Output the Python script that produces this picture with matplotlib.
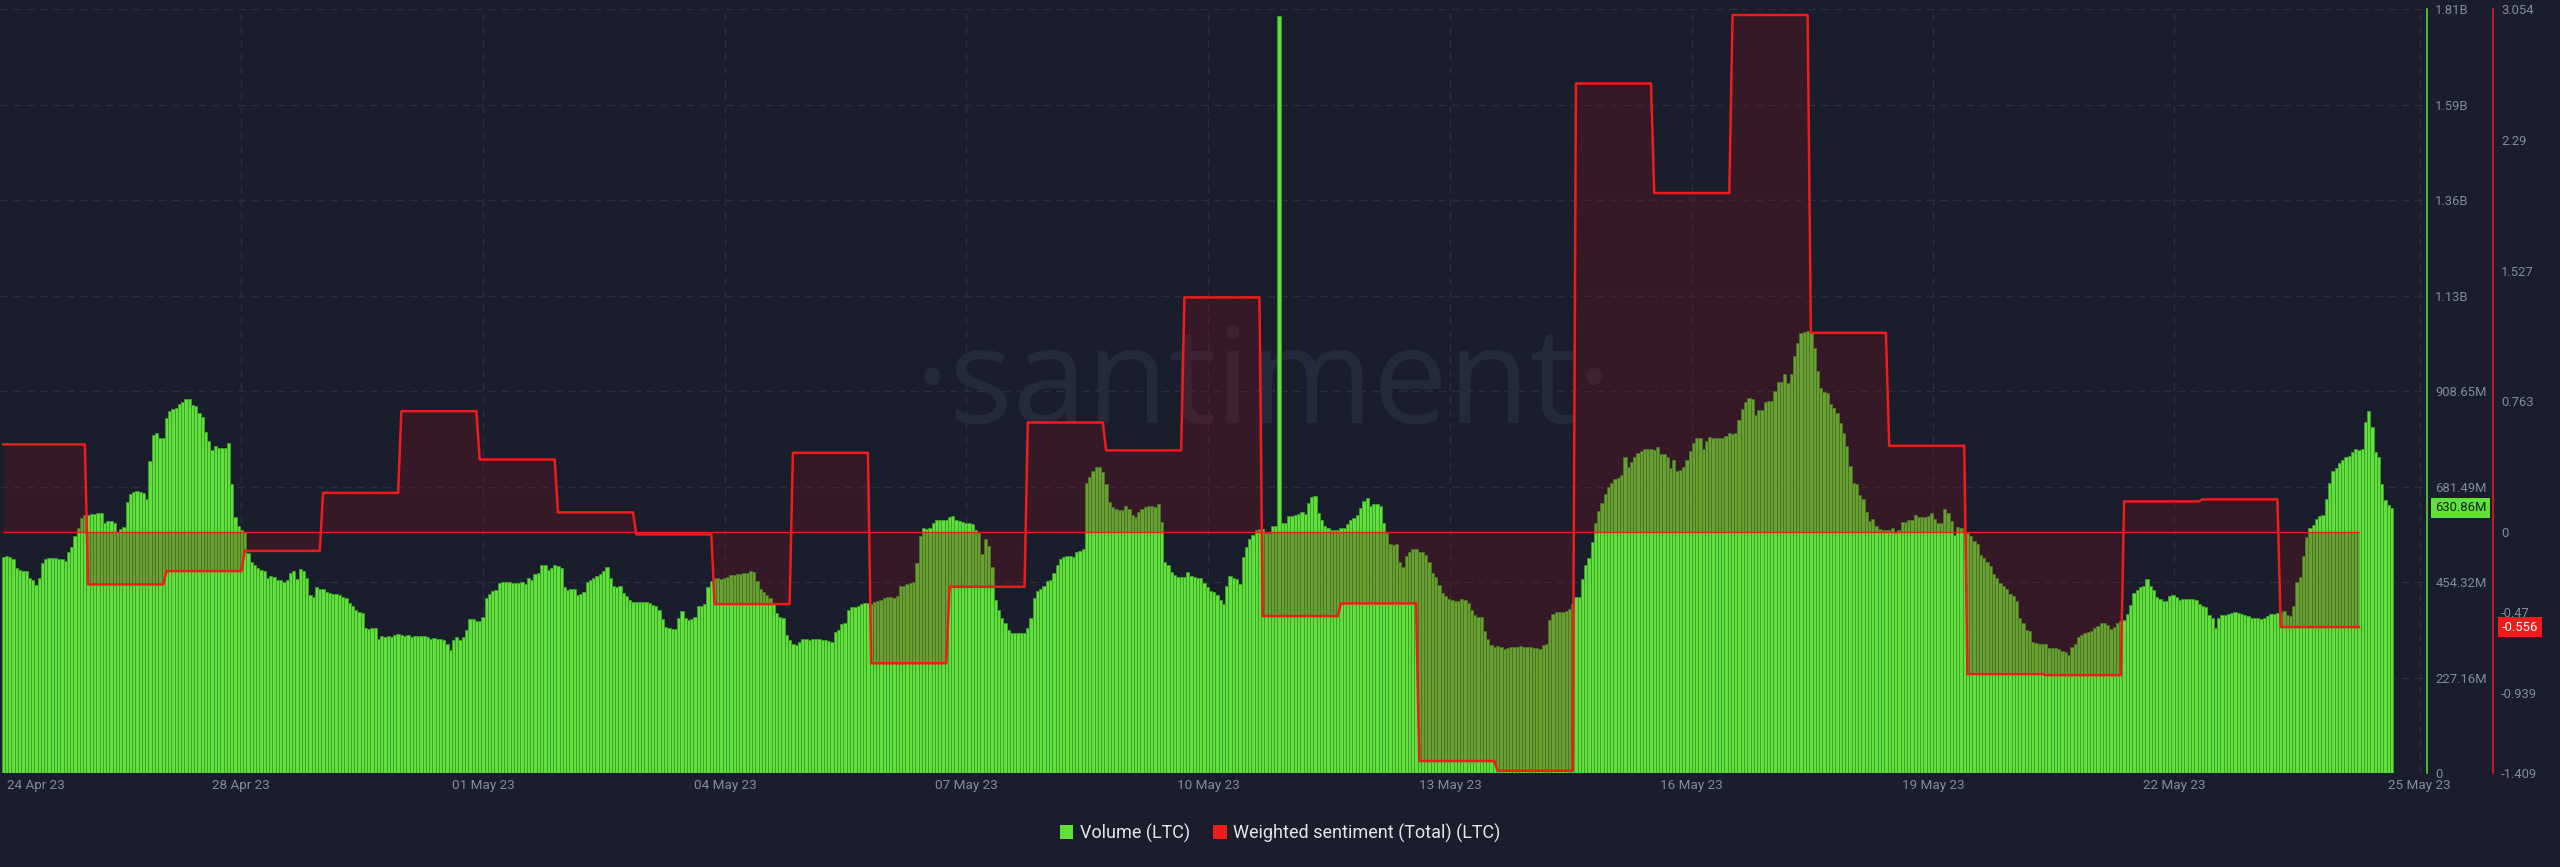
import numpy as np
import matplotlib
matplotlib.use('Agg')
import matplotlib.pyplot as plt
import matplotlib.transforms as mtransforms
from matplotlib.patches import Patch

plt.rcParams['font.family'] = ['Roboto', 'DejaVu Sans']

# hourly volume (LTC), millions
volume_m = [
    514, 516, 514, 508, 487, 483, 481, 480, 465, 459,
    447, 465, 500, 508, 512, 512, 511, 508, 508, 504,
    526, 537, 565, 582, 606, 613, 615, 616, 616, 619,
    619, 594, 600, 600, 594, 574, 580, 586, 645, 665,
    669, 671, 669, 667, 651, 742, 804, 808, 798, 796,
    844, 861, 867, 869, 878, 882, 889, 891, 875, 873,
    857, 848, 812, 790, 768, 779, 773, 773, 773, 784, 687,
    610, 588, 578, 574, 523, 503, 495, 487, 483, 480,
    465, 469, 467, 459, 459, 455, 459, 475, 481, 462,
    485, 481, 463, 423, 419, 443, 437, 437, 431, 429,
    427, 427, 423, 419, 416, 404, 397, 389, 384, 380,
    346, 343, 346, 344, 319, 327, 324, 327, 324, 328,
    331, 328, 327, 328, 324, 326, 326, 326, 326, 324, 320,
    322, 320, 320, 316, 308, 293, 316, 324, 316, 323,
    340, 366, 366, 362, 362, 372, 416, 427, 434, 435, 451,
    # 01 May ->
    455, 455, 454, 453, 453, 453, 455, 449, 465, 459,
    473, 476, 495, 496, 484, 488, 495, 493, 487, 442,
    435, 438, 438, 423, 425, 431, 454, 459, 465, 469,
    473, 481, 491, 463, 446, 443, 446, 429, 421, 411,
    406, 406, 407, 406, 406, 405, 400, 398, 389, 366, 348,
    346, 343, 343, 368, 385, 368, 364, 366, 372, 398,
    398, 402, 443, 457, 465, 465, 461, 465, 467, 470,
    471, 473, 473, 475, 477, 481, 479, 457, 439, 431,
    423, 416, 404, 380, 372, 368, 328, 316, 308, 304,
    312, 320, 318, 316, 318, 318, 318, 316, 316, 314, 312,
    335, 340, 354, 358, 388, 396, 396, 398, 402, 404,
    404, 401, 407, 409, 411, 416, 418, 419, 417, 421,
    445, 446, 449, 451, 455, 499, 564, 583, 580, 583,
    595, 603, 602, 602, 603, 610, 611, 602, 599, 598,
    595, 595, 592, 578,
    # 07 May ->
    570, 521, 557, 540, 489, 412, 389, 368, 356, 340,
    332, 332, 332, 332, 334, 344, 370, 417, 434, 439, 446,
    457, 459, 475, 495, 509, 515, 517, 517, 515, 525,
    528, 534, 689, 705, 718, 729, 729, 717, 687, 645,
    632, 628, 626, 626, 635, 627, 614, 610, 622, 627,
    632, 635, 635, 632, 641, 598, 503, 495, 479, 471,
    467, 467, 467, 479, 469, 467, 465, 463, 453, 442, 433,
    430, 423, 412, 402, 445, 469, 463, 461, 449, 515,
    538, 556, 566, 578, 580, 581, 572, 572, 588, 588,
    1800, 595, 595, 611, 611, 614, 616, 620, 616, 643,
    657, 660, 618, 603, 588, 584, 578, 578, 578, 584, 584,
    592, 602, 606, 614, 630, 647, 655, 635, 639, 639,
    635, 594, 570, 546, 542, 544, 503, 491, 516, 525,
    534, 532, 525, 525, 519, 503, 477, 467, 447, 429,
    421, 415, 412, 409,
    # 13 May ->
    409, 415, 412, 405, 388, 377, 372, 372, 338, 320,
    304, 301, 303, 301, 294, 297, 301, 301, 301, 302, 301,
    301, 299, 298, 297, 294, 304, 308, 364, 378, 384,
    384, 384, 386, 390, 402, 419, 419, 461, 495, 511,
    550, 594, 623, 643, 663, 680, 691, 699, 703, 709,
    752, 729, 739, 752, 762, 767, 770, 771, 771, 768, 776,
    759, 759, 752, 725, 745, 719, 722, 727, 745, 767,
    784, 796, 796, 772, 791, 800, 798, 796, 798, 798, 803,
    810, 806, 808, 840, 867, 883, 893, 891, 852, 863,
    863, 883, 885, 885, 909, 931, 931, 949, 927, 949,
    992, 1024, 1048, 1050, 1052, 1050, 1012, 957, 917, 907,
    903, 879, 869, 856, 833, 808, 779, 730, 691, 687,
    661, 651, 622, 600, 604, 588, 580, 578, 578, 578, 584,
    572, 578, 598, 598, 602, 603, 614, 608, 610, 608,
    611, 618, 604, 594,
    # 19 May ->
    594, 627, 618, 600, 566, 586, 584, 574, 570, 564,
    553, 546, 519, 511, 501, 493, 473, 465, 451, 446,
    439, 427, 421, 409, 370, 358, 340, 339, 312, 310,
    306, 306, 306, 297, 297, 297, 294, 290, 289, 281, 299,
    308, 323, 328, 332, 335, 338, 344, 350, 358, 356,
    352, 343, 348, 356, 362, 364, 378, 400, 429, 435,
    443, 446, 462, 446, 435, 418, 415, 409, 409, 422,
    423, 418, 412, 413, 413, 413, 413, 412, 401, 398, 394,
    377, 368, 346, 370, 376, 377, 378, 380, 382, 380,
    378, 377, 374, 368, 368, 370, 366, 368, 374, 378,
    378, 380, 382, 386, 376, 373, 397, 454, 467, 517,
    561, 582, 591, 604, 612, 614, 651, 689, 718, 725,
    738, 745, 751, 755, 764, 772, 768, 772, 836, 861,
    824, 764, 751, 687, 649, 637, 630.86,
]

# weighted sentiment, one level per day
sentiment_daily = [0.511, -0.307, -0.229, -0.111, 0.228, 0.705, 0.423, 0.114,
                   -0.015, -0.422, 0.462, -0.768, -0.321, 0.639, 0.476, 1.370,
                   -0.492, -0.418, -1.339, -1.396, 2.62, 1.98, 3.02, 1.163,
                   0.503, -0.831, -0.837, 0.178, 0.190, -0.556]
first_change_hour = 26
hours_per_day = 24
sentiment_last_hour = 722

vol_ticks = [0, 227.16, 454.32, 681.49, 908.65, 1135.81, 1362.97, 1590.13, 1817.29]
vol_labels = ['0', '227.16M', '454.32M', '681.49M', '908.65M', '1.13B', '1.36B', '1.59B', '1.81B']
sent_ticks = [-1.409, -0.939, -0.47, 0, 0.763, 1.527, 2.29, 3.054]
sent_labels = ['-1.409', '-0.939', '-0.47', '0', '0.763', '1.527', '2.29', '3.054']
date_pos = [1.1, 72.8, 147.0, 221.2, 295.2, 369.2, 443.4, 517.5, 591.4, 665.3, 740.6]
date_labels = ['24 Apr 23', '28 Apr 23', '01 May 23', '04 May 23', '07 May 23', '10 May 23',
               '13 May 23', '16 May 23', '19 May 23', '22 May 23', '25 May 23']
last_volume = '630.86M'
last_sentiment = '-0.556'

bg = '#1a1d2c'
green = '#60e03a'
red = '#f01b1b'
grid_c = '#2a2e40'
txt_c = '#848a9e'

hours = np.arange(len(volume_m))
sent_hours = np.arange(sentiment_last_hour + 1)
day_idx = (sent_hours - first_change_hour) // hours_per_day + 1
day_idx = np.clip(day_idx, 0, len(sentiment_daily) - 1)
sentiment = np.array(sentiment_daily)[day_idx]

fig = plt.figure(figsize=(25.6, 8.67), dpi=100, facecolor=bg)
ax = fig.add_axes([0, 0.1084, 0.948, 0.881])
ax.set_facecolor(bg)
ax2 = ax.twinx()

ax.bar(hours, volume_m, width=1.0, color=green, edgecolor='#3e9e2c', linewidth=0.6, zorder=2)
ax.set_xlim(-1.01, 742.8)
ax.set_ylim(0, vol_ticks[-1])

# volume axis on the right, next to the plot
ax.yaxis.tick_right()
ax.set_yticks(vol_ticks, vol_labels)
ax.grid(axis='y', color=grid_c, lw=1, ls=(0, (5.5, 4)), zorder=0)
for p in date_pos[1:]:
    ax.axvline(p, color=grid_c, lw=1, ls=(0, (5.5, 4)), zorder=0)
ax.set_axisbelow(True)

ax.set_xticks(date_pos, date_labels)
ax.get_xticklabels()[0].set_ha('left')
ax.tick_params(axis='x', length=0, pad=4, labelsize=9.7, labelcolor=txt_c)
ax.tick_params(axis='y', which='both', left=False, labelleft=False, right=False, labelright=True,
               length=0, pad=6, labelsize=9.4, labelcolor=txt_c)
for s in ['left', 'top', 'bottom']:
    ax.spines[s].set_visible(False)
ax.spines['right'].set_color(green)
ax.spines['right'].set_linewidth(1.1)

# watermark
ax.text(0.5204, 0.458, '·santiment·', transform=ax.transAxes, ha='center', va='baseline',
        fontsize=96, color='#252a3b', family=['Open Sans', 'DejaVu Sans'], zorder=1)

# sentiment
ax2.fill_between(sent_hours, sentiment, 0, color='#78101e', alpha=0.3, lw=0)
ax2.plot(sent_hours, sentiment, color=red, lw=1.8)
ax2.hlines(0, sent_hours[0], sent_hours[-1], color=red, lw=1.0)
ax2.set_ylim(sent_ticks[0], sent_ticks[-1])
ax2.set_yticks(sent_ticks, sent_labels)
ax2.tick_params(axis='y', length=0, pad=6, labelsize=9.4, labelcolor=txt_c)
for s in ['left', 'top', 'bottom']:
    ax2.spines[s].set_visible(False)
ax2.spines['right'].set_position(('outward', 47.5))
ax2.spines['right'].set_color(red)
ax2.spines['right'].set_linewidth(1.1)

# last value badges
t1 = mtransforms.blended_transform_factory(ax.transAxes, ax.transData)
ax.text(1.0033, volume_m[-1], last_volume, transform=t1, ha='left', va='center', fontsize=9.4,
        color='#12240c', bbox=dict(boxstyle='square,pad=0.28', fc=green, ec='none'),
        clip_on=False, zorder=6)
t2 = mtransforms.blended_transform_factory(ax2.transAxes, ax2.transData)
ax2.text(1.0308, sentiment[-1], last_sentiment, transform=t2, ha='left', va='center', fontsize=9.4,
         color='white', bbox=dict(boxstyle='square,pad=0.28', fc=red, ec='none'),
         clip_on=False, zorder=6)

handles = [Patch(fc=green, ec='none', label='Volume (LTC)'),
           Patch(fc=red, ec='none', label='Weighted sentiment (Total) (LTC)')]
fig.legend(handles=handles, loc='center', bbox_to_anchor=(0.5, 34 / 867), ncol=2, frameon=False,
           fontsize=13, labelcolor='#e4e6ec', handlelength=0.75, handleheight=0.75,
           handletextpad=0.35, columnspacing=1.3)

fig.savefig('out.png', dpi=100, facecolor=bg)
